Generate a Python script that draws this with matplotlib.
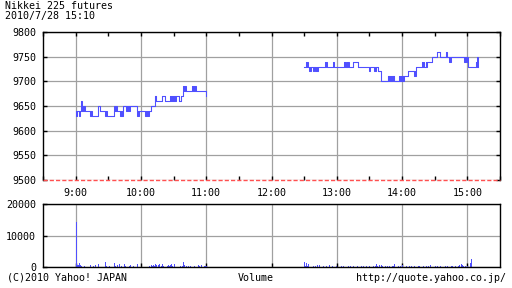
import numpy as np
import matplotlib
matplotlib.use("Agg")
import matplotlib.pyplot as plt

# price segments, minutes from 9:00; lo/hi give the range traded in that span
am_t = [0, 1.2, 2.7, 4.3, 5.0, 5.5, 8.2, 12.8, 14.9, 21, 22.5, 27.1, 28.6, 35.3, 37.8,
        40.8, 43.3, 46.3, 50, 56, 58.5, 63.7, 67.6, 68.8, 72.8, 74.3, 79.8, 81.9, 86.5,
        92, 95, 96.6, 98.7, 101.7, 106.9, 110.9, 119.5, 120]
am_lo = [9630, 9640, 9630, 9640, 9640, 9640, 9640, 9630, 9630, 9650, 9640, 9630, 9630, 9640, 9640,
         9630, 9650, 9640, 9650, 9630, 9640, 9630, 9640, 9650, 9670, 9660, 9670, 9660, 9660,
         9670, 9660, 9670, 9680, 9680, 9680, 9680, 9670, 9670]
am_hi = [9640, 9640, 9640, 9640, 9660, 9650, 9640, 9640, 9630, 9650, 9640, 9640, 9630, 9650, 9640,
         9640, 9650, 9650, 9650, 9640, 9640, 9640, 9640, 9650, 9670, 9660, 9670, 9660, 9670,
         9670, 9660, 9670, 9690, 9680, 9690, 9680, 9680, 9680]

pm_t = [209.8, 211.3, 213.4, 214.9, 216.4, 218, 219.5, 220.4, 222.6, 229.6, 230.8, 236.3, 237.2,
        246.9, 248.5, 249.4, 251.5, 254.6, 259.2, 269.2, 270.5, 274.4, 276, 278.1, 280.6, 286.7,
        288.2, 291.3, 292.8, 297.4, 302, 305.9, 311.1, 312.6, 318.7, 319.7, 321.8, 323.3, 327.3,
        331.9, 334.9, 340.1, 341.6, 343.1, 344.7, 356.9, 358.4, 360, 360.9, 367.6, 369.0, 369.6]
pm_lo = [9730, 9730, 9730, 9720, 9730, 9720, 9730, 9720, 9730, 9730, 9730, 9730, 9730,
         9730, 9730, 9730, 9730, 9740, 9730, 9720, 9730, 9720, 9730, 9720, 9700, 9710,
         9700, 9710, 9700, 9700, 9710, 9720, 9710, 9730, 9730, 9730, 9730, 9740, 9750,
         9760, 9750, 9750, 9750, 9740, 9750, 9740, 9750, 9740, 9730, 9730, 9730, 9730]
pm_hi = [9730, 9740, 9730, 9730, 9730, 9730, 9730, 9730, 9730, 9740, 9730, 9740, 9730,
         9740, 9730, 9740, 9730, 9740, 9730, 9730, 9730, 9730, 9730, 9720, 9700, 9710,
         9710, 9710, 9700, 9710, 9710, 9720, 9720, 9730, 9740, 9730, 9740, 9740, 9750,
         9760, 9750, 9760, 9750, 9750, 9750, 9750, 9750, 9750, 9730, 9740, 9750, 9730]

# volume per minute
am_vol = [14200, 700, 500, 1200, 600, 300, 100, 0, 300, 0, 0, 100, 0, 500, 0, 0,
          400, 0, 600, 100, 0, 800, 0, 0, 100, 0, 0, 1700, 200, 0, 0, 300,
          0, 0, 100, 1300, 300, 0, 500, 100, 900, 0, 400, 0, 800, 200, 0, 0,
          0, 300, 600, 0, 0, 200, 0, 0, 1000, 100, 0, 0, 0, 0, 100, 0,
          0, 0, 0, 200, 0, 500, 300, 600, 400, 800, 500, 100, 700, 900, 300, 800,
          200, 0, 0, 0, 300, 600, 400, 700, 1000, 200, 900, 100, 0, 0, 100, 0,
          200, 0, 300, 1700, 600, 200, 100, 400, 0, 200, 0, 100, 0, 200, 100, 0,
          500, 200, 0, 600, 100, 0, 300, 400, 200]
pm_vol = [1700, 300, 1200, 200, 800, 100, 0, 0, 200, 0, 300, 100, 500, 0, 600, 0,
          0, 200, 0, 0, 300, 0, 100, 600, 0, 0, 200, 0, 0, 300, 0, 100,
          0, 0, 400, 0, 200, 0, 0, 0, 200, 0, 300, 0, 0, 200, 0, 0,
          100, 400, 0, 0, 200, 0, 300, 0, 0, 200, 0, 0, 300, 100, 0, 400,
          0, 200, 900, 300, 0, 500, 100, 700, 400, 0, 200, 0, 300, 0, 200, 0,
          0, 200, 400, 800, 100, 0, 300, 0, 200, 0, 500, 100, 0, 0, 200, 0,
          300, 0, 200, 0, 0, 400, 100, 0, 0, 300, 200, 0, 0, 400, 100, 0,
          300, 0, 200, 0, 500, 100, 0, 0, 300, 0, 200, 0, 0, 400, 100, 0,
          0, 200, 0, 300, 100, 0, 0, 200, 400, 0, 0, 200, 0, 300, 600, 100,
          1100, 500, 200, 0, 300, 100, 400, 0, 1300, 2500]

hours = [9, 10, 11, 12, 13, 14, 15]
hour_labels = ["9:00", "10:00", "11:00", "12:00", "13:00", "14:00", "15:00"]
price_ticks = [9500, 9550, 9600, 9650, 9700, 9750, 9800]
vol_ticks = [0, 10000, 20000]

blue = "#5050ff"
grid = "#a0a0a0"
plt.rcParams["font.family"] = "DejaVu Sans Mono"
plt.rcParams["font.size"] = 7.2

fig = plt.figure(figsize=(5.12, 2.88), dpi=100)
ax = fig.add_axes([43 / 512, 1 - 180 / 288, 457 / 512, 148 / 288])
ax2 = fig.add_axes([43 / 512, 1 - 267 / 288, 457 / 512, 63 / 288])

for t, lo, hi in [(am_t, am_lo, am_hi), (pm_t, pm_lo, pm_hi)]:
    x = 9 + np.array(t) / 60
    ax.fill_between(x, lo, hi, step="post", color=blue, lw=0)
    ax.step(x, lo, where="post", color=blue, lw=0.75)
    ax.step(x, hi, where="post", color=blue, lw=0.75)

ax.axhline(9500, color="#ff5050", lw=1.0, dashes=(3, 1.5), zorder=5, clip_on=False)
ax.set_xlim(8.5, 15.5)
ax.set_ylim(9500, 9800)
ax.set_yticks(price_ticks)
ax.set_xticks(hours)
ax.set_xticklabels(hour_labels)
ax.set_xticks(np.arange(8.5, 15.6, 0.5), minor=True)
ax.grid(True, color=grid, lw=0.9)
ax.set_axisbelow(True)
ax.spines["bottom"].set_visible(False)
ax.tick_params(which="both", direction="in", length=3, width=1, top=True, right=True,
               pad=5, labelsize=7.2)
ax.tick_params(axis="x", pad=6)

am_x = 9 + np.arange(len(am_vol)) / 60
pm_x = 9 + (210 + np.arange(len(pm_vol))) / 60
ax2.vlines(am_x, 0, am_vol, color=blue, lw=0.6, antialiased=False)
ax2.vlines(pm_x, 0, pm_vol, color=blue, lw=0.6, antialiased=False)
ax2.set_xlim(8.5, 15.5)
ax2.set_ylim(0, 20000)
ax2.set_yticks(vol_ticks)
ax2.set_xticks(hours)
ax2.set_xticklabels([])
ax2.grid(True, color=grid, lw=0.9)
ax2.set_axisbelow(True)
ax2.tick_params(direction="in", length=3, width=1, pad=5, labelsize=7.2)

for a in (ax, ax2):
    for s in a.spines.values():
        s.set_linewidth(1)

fig.text(5 / 512, 1 - 1 / 288, "Nikkei 225 futures\n2010/7/28 15:10", ha="left", va="top",
         linespacing=0.95)
fig.text(7 / 512, 1 - 278 / 288, "(C)2010 Yahoo! JAPAN", ha="left", va="center")
fig.text(256 / 512, 1 - 278 / 288, "Volume", ha="center", va="center")
fig.text(506 / 512, 1 - 278 / 288, "http://quote.yahoo.co.jp/", ha="right", va="center")

fig.savefig("out.png", dpi=100)
